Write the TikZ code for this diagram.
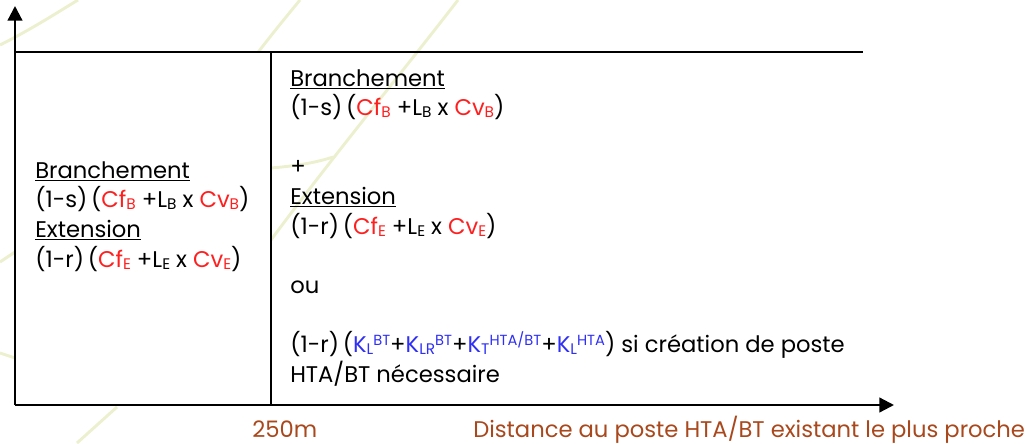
\documentclass[tikz,border=0pt]{standalone}
\usepackage{fontspec}
\setmainfont{Poppins}
\usetikzlibrary{arrows.meta, positioning}
\definecolor{cred}{HTML}{FF1F1F}
\definecolor{cblue}{HTML}{2F2FF5}
\definecolor{cbrown}{HTML}{A9481C}
\definecolor{cleaf}{HTML}{EDF0CF}
% small letters below / above the line
\newcommand{\lo}[1]{\raisebox{-1.5pt}{\fontsize{11.5}{12}\selectfont #1}}
\newcommand{\hi}[1]{\raisebox{5.5pt}{\fontsize{11}{12}\selectfont #1}}
\newcommand{\cf}[1]{\textcolor{cred}{#1}}
\newcommand{\ck}[1]{\textcolor{cblue}{#1}}
\tikzset{
  axisarr/.style={line width=1.7pt, -{Triangle[length=11pt,width=11pt]}},
  boxline/.style={line width=1.7pt},
  cell/.style={align=left, anchor=base west, inner sep=0pt,
               font=\fontsize{17}{22.2}\selectfont},
  lbl/.style={anchor=base west, inner sep=0pt, text=cbrown,
              font=\fontsize{17}{22}\selectfont},
  leaf/.style={draw=cleaf, line width=2.2pt},
}
\begin{document}
\begin{tikzpicture}[x=0.75pt, y=-0.75pt]
  \useasboundingbox (0,0) rectangle (1036,443);

  % faint curves of the background
  \draw[leaf] (0,45) .. controls (30,30) and (55,14) .. (78,0);
  \draw[leaf] (256,55) .. controls (272,34) and (286,17) .. (300,0);
  \draw[leaf] (458,0) .. controls (400,75) and (330,160) .. (271,240);
  \draw[leaf] (333,157) .. controls (315,163) and (295,166) .. (271,168);
  \draw[leaf] (0,262) -- (15,252);
  \draw[leaf] (0,353) -- (15,358);
  \draw[leaf] (77,443) -- (117,407);

  % axes and frame
  \coordinate (O) at (15,405);
  \coordinate (ytop) at (15,6);
  \coordinate (xend) at (894,405);
  \coordinate (tl) at (15,52);
  \coordinate (tr) at (863,52);
  \coordinate (dtop) at (271,52);
  \coordinate (dbot) at (271,405);
  \fill[white] (tl) rectangle (dbot);
  \draw[boxline] (tl) -- (tr);
  \draw[boxline] (dtop) -- (dbot);
  \draw[axisarr] (O) -- (ytop);
  \draw[axisarr] (O) -- (xend);

  % cells (base = last line)
  \node[cell] (left) at (35,267)
    {\underline{Branchement}\\
     (1-s)\,(\cf{Cf\lo{B}} +L\lo{B} x \cf{Cv\lo{B}})\\
     \underline{Extension}\\
     (1-r)\,(\cf{Cf\lo{E}} +L\lo{E} x \cf{Cv\lo{E}})};
  \node[cell] (right) at (290,382)
    {\underline{Branchement}\\
     (1-s)\,(\cf{Cf\lo{B}} +L\lo{B} x \cf{Cv\lo{B}})\\[\baselineskip]
     +\\
     \underline{Extension}\\
     (1-r)\,(\cf{Cf\lo{E}} +L\lo{E} x \cf{Cv\lo{E}})\\[\baselineskip]
     ou\\[\baselineskip]
     (1-r)\,(\ck{K\lo{L}\hi{BT}}+\ck{K\lo{LR}\hi{BT}}+\ck{K\lo{T}\hi{HTA/BT}}+\ck{K\lo{L}\hi{HTA}}) si création de poste\\
     HTA/BT nécessaire};

  % axis labels
  \node[lbl] (tick) at (252,437) {250m};
  \node[lbl] (xlabel) at (473,437) {Distance au poste HTA/BT existant le plus proche};
\end{tikzpicture}
\end{document}
